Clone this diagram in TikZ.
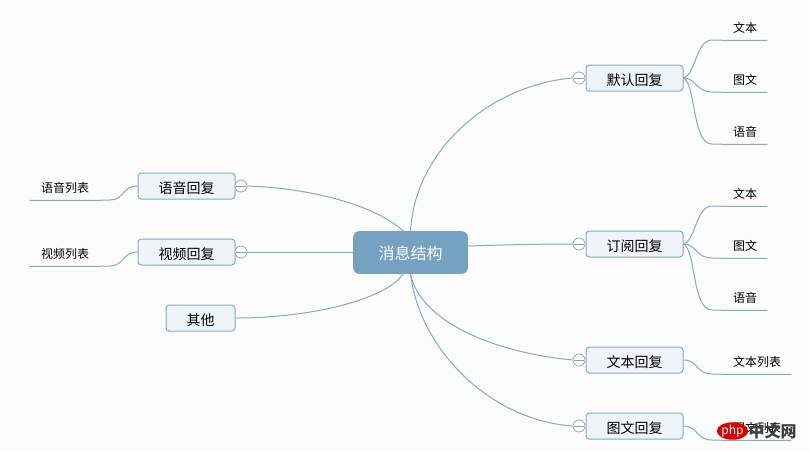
\documentclass[tikz,border=0pt]{standalone}
\usepackage{fontspec}
\usetikzlibrary{shapes.geometric}
\setmainfont{Noto Sans CJK SC}
\definecolor{linkblue}{HTML}{82ABC8}
\definecolor{rootblue}{HTML}{76A2C1}
\definecolor{boxfill}{HTML}{EFF4F8}
\definecolor{pagebg}{HTML}{FCFCFC}
\begin{document}
\begin{tikzpicture}[x=0.75pt, y=-0.75pt,
  rootbox/.style={fill=rootblue, text=white, rounded corners=4.5pt, align=center, minimum width=86pt,
              minimum height=32pt, inner sep=0pt, text height=11pt, text depth=0pt, font=\fontsize{12}{14}\selectfont},
  box/.style={draw=linkblue, fill=boxfill, line width=0.75pt, rounded corners=2.5pt, align=center,
              minimum height=19.5pt, inner sep=0pt, text height=10.5pt, text depth=0pt, font=\fontsize{10.5}{12}\selectfont},
  leaf/.style={minimum height=18pt, inner sep=0pt, font=\fontsize{9}{11}\selectfont},
  fold/.style={circle, draw=gray!70, fill=white, line width=0.6pt, minimum size=9pt, inner sep=0pt},
  link/.style={draw=linkblue, line width=0.75pt}]
  \fill[pagebg] (0,0) rectangle (809,450);
  \useasboundingbox (0,0) rectangle (809,450);
  % centre
  \node[rootbox] (root) at (410.5,252.5) {消息结构};
  % right column
  \node[box, minimum width=72.75pt] (moren) at (634.5,78) {默认回复};
  \node[box, minimum width=72.75pt] (dingyue) at (634.5,244) {订阅回复};
  \node[box, minimum width=72.75pt] (wenben) at (634.5,360) {文本回复};
  \node[box, minimum width=72.75pt] (tuwen) at (634.5,426) {图文回复};
  \node[fold] (foldmoren) at (579,78) {};
  \node[fold] (folddingyue) at (579,244) {};
  \node[fold] (foldwenben) at (579,360) {};
  \node[fold] (foldtuwen) at (579,426) {};
  \draw[link] (root.north) .. controls (415,150) and (490,85) .. (foldmoren.west);
  \draw[link] ([yshift=4.9pt]root.east) .. controls (500,245) and (540,244) .. (folddingyue.west);
  \draw[link] (root.south) .. controls (420,320) and (490,352) .. (foldwenben.west);
  \draw[link] (root.south) .. controls (420,350) and (490,420) .. (foldtuwen.west);
  % leaves of the right column
  \node[leaf, minimum width=33pt] (mwen) at (745,28) {文本};
  \node[leaf, minimum width=33pt] (mtu) at (745,80) {图文};
  \node[leaf, minimum width=33pt] (myu) at (745,132) {语音};
  \node[leaf, minimum width=33pt] (dwen) at (745,194) {文本};
  \node[leaf, minimum width=33pt] (dtu) at (745,246) {图文};
  \node[leaf, minimum width=33pt] (dyu) at (745,298) {语音};
  \node[leaf, minimum width=51pt] (wlist) at (757,362) {文本列表};
  \node[leaf, minimum width=51pt] (tlist) at (757,428) {图文列表};
  \draw[link] (moren.east) .. controls (696,74) and (696,40) .. (712,40) -- (mwen.south west) -- (mwen.south east);
  \draw[link] (moren.east) .. controls (696,78) and (696,92) .. (712,92) -- (mtu.south west) -- (mtu.south east);
  \draw[link] (moren.east) .. controls (696,84) and (692,144) .. (712,144) -- (myu.south west) -- (myu.south east);
  \draw[link] (dingyue.east) .. controls (696,240) and (696,206) .. (712,206) -- (dwen.south west) -- (dwen.south east);
  \draw[link] (dingyue.east) .. controls (696,244) and (696,258) .. (712,258) -- (dtu.south west) -- (dtu.south east);
  \draw[link] (dingyue.east) .. controls (696,250) and (692,310) .. (712,310) -- (dyu.south west) -- (dyu.south east);
  \draw[link] (wenben.east) .. controls (698,360) and (696,374) .. (712,374) -- (wlist.south west) -- (wlist.south east);
  \draw[link] (tuwen.east) .. controls (698,426) and (696,440) .. (712,440) -- (tlist.south west) -- (tlist.south east);
  % left column
  \node[box, minimum width=72.75pt] (yuyin) at (186.5,186) {语音回复};
  \node[box, minimum width=72.75pt] (shipin) at (186.5,252) {视频回复};
  \node[box, minimum width=51.75pt] (qita) at (200.5,318) {其他};
  \node[fold] (foldyuyin) at (241,186) {};
  \node[fold] (foldshipin) at (241,252) {};
  \draw[link] (foldyuyin.east) .. controls (310,188) and (375,205) .. ([xshift=-5.6pt]root.north);
  \draw[link] (foldshipin.east) -- (root.west |- foldshipin.east);
  \draw[link] (qita.east) .. controls (310,318) and (385,300) .. ([xshift=-5.6pt]root.south);
  \foreach \n in {foldmoren,folddingyue,foldwenben,foldtuwen,foldyuyin,foldshipin}
    \draw[gray!80, line width=0.6pt] ([xshift=1.2pt]\n.west) -- ([xshift=-1.2pt]\n.east);
  % leaves of the left column
  \node[leaf, minimum width=52.5pt] (ylist) at (65,188) {语音列表};
  \node[leaf, minimum width=52.5pt] (slist) at (65,254) {视频列表};
  \draw[link] (yuyin.west) .. controls (122,186) and (124,200) .. (110,200) -- (ylist.south east) -- (ylist.south west);
  \draw[link] (shipin.west) .. controls (122,252) and (124,266) .. (110,266) -- (slist.south east) -- (slist.south west);
  % site mark
  \node[ellipse, fill=red!85!black, text=white, minimum width=22pt, minimum height=13pt, inner sep=0pt,
        font=\fontsize{9}{9}\selectfont\itshape] (mark) at (732.5,431) {php};
  \node[anchor=west, inner sep=0pt, text=black!75, font=\fontsize{12}{12}\selectfont\bfseries] (marktext) at (mark.east) {中文网};
\end{tikzpicture}
\end{document}
